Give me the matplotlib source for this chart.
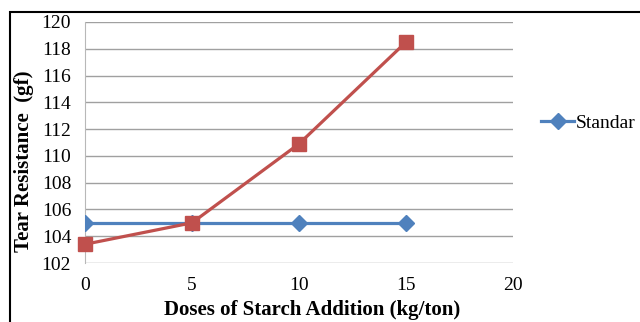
import numpy as np
import matplotlib.pyplot as plt
from matplotlib.patches import Rectangle

doses = [0, 5, 10, 15]
standard = [105, 105, 105, 105]
starch = [103.4, 105.0, 110.9, 118.5]
legend_label = "Standar"

plt.rcParams['font.family'] = ['Liberation Serif', 'DejaVu Serif']

fig = plt.figure(figsize=(6.4, 3.22), dpi=100)
ax = fig.add_axes([85/640, 1-263/322, (513-85)/640, (263-22)/322])

line_std, = ax.plot(doses, standard, color='#4F81BD', lw=2.3, marker='D', ms=8.5,
                    label=legend_label, zorder=3)
ax.plot(doses, starch, color='#C0504D', lw=2.3, marker='s', ms=10, zorder=4,
        clip_on=False)

ax.set_xlim(0, 20)
ax.set_ylim(102, 120)
ax.set_xticks([0, 5, 10, 15, 20])
ax.set_yticks(np.arange(102, 121, 2))
ax.tick_params(length=0, labelsize=14, pad=10)
ax.tick_params(axis='y', pad=10)
ax.grid(axis='y', color='#A0A0A0', lw=1)
ax.set_axisbelow(True)
for s in ['top', 'right', 'bottom']:
    ax.spines[s].set_visible(False)
ax.spines['left'].set_color('#B8B8B8')

# x title sits at the very bottom edge, as in the source figure
fig.text(312/640, 2/322, 'Doses of Starch Addition (kg/ton)', fontsize=15,
         fontweight='bold', ha='center', va='bottom')
fig.text(24/640, 1-161/322, 'Tear Resistance  (gf)', fontsize=15, fontweight='bold',
         rotation=90, ha='center', va='center')

fig.legend(handles=[line_std], loc='center left', bbox_to_anchor=(541/640, 1-123/322),
           frameon=False, fontsize=14, handlelength=1.7, handletextpad=0.1,
           borderpad=0, borderaxespad=0)

fig.add_artist(Rectangle((10/640, -0.2), 1.5, 1-12/322+0.2, transform=fig.transFigure,
                         fill=False, edgecolor='black', lw=1.5))

fig.savefig('out.png', dpi=100)
